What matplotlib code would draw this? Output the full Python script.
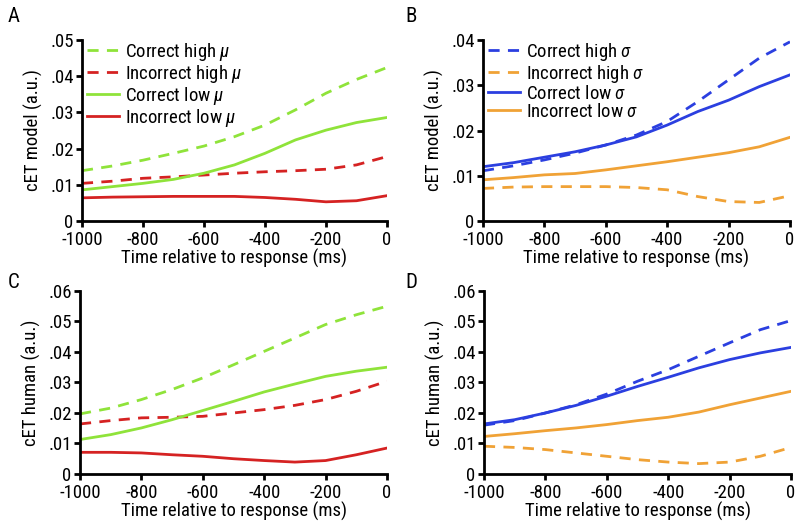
import matplotlib
matplotlib.use("Agg")
import matplotlib.pyplot as plt
from matplotlib.ticker import FuncFormatter

plt.rcParams['font.family'] = ['Roboto Condensed', 'DejaVu Sans']
plt.rcParams['mathtext.fontset'] = 'custom'
plt.rcParams['mathtext.it'] = 'Roboto Condensed:italic'
plt.rcParams['mathtext.rm'] = 'Roboto Condensed'

time = [-1000, -900, -800, -700, -600, -500, -400, -300, -200, -100, 0]

# Panel A (model, mu)
a_corr_high = [.0139, .0152, .0168, .0187, .0207, .0233, .0265, .0307, .0353, .0391, .0424]
a_inc_high = [.0104, .0110, .0118, .0122, .0127, .0132, .0136, .0139, .0143, .0155, .0178]
a_corr_low = [.0086, .0095, .0104, .0115, .0132, .0155, .0187, .0224, .0251, .0272, .0286]
a_inc_low = [.0064, .0066, .0067, .0068, .0068, .0068, .0065, .0060, .0053, .0056, .0070]

# Panel B (model, sigma)
b_corr_high = [.0111, .0122, .0135, .0150, .0168, .0190, .0220, .0264, .0312, .0360, .0396]
b_inc_high = [.0072, .0075, .0076, .0076, .0076, .0074, .0069, .0054, .0043, .0041, .0056]
b_corr_low = [.0120, .0129, .0141, .0153, .0168, .0186, .0212, .0242, .0267, .0297, .0323]
b_inc_low = [.0091, .0096, .0102, .0105, .0113, .0122, .0131, .0141, .0151, .0164, .0185]

# Panel C (human, mu)
c_corr_high = [.0197, .0216, .0244, .0277, .0315, .0358, .0402, .0446, .0490, .0522, .0550]
c_inc_high = [.0164, .0175, .0184, .0186, .0189, .0200, .0211, .0225, .0244, .0271, .0304]
c_corr_low = [.0113, .0129, .0151, .0178, .0208, .0238, .0269, .0295, .0320, .0337, .0350]
c_inc_low = [.0071, .0071, .0069, .0063, .0058, .0050, .0044, .0039, .0044, .0063, .0085]

# Panel D (human, sigma)
d_corr_high = [.0160, .0175, .0200, .0227, .0262, .0304, .0342, .0386, .0430, .0473, .0503]
d_inc_high = [.0091, .0087, .0080, .0069, .0058, .0047, .0039, .0034, .0039, .0058, .0087]
d_corr_low = [.0164, .0178, .0200, .0225, .0255, .0287, .0317, .0348, .0375, .0397, .0415]
d_inc_low = [.0123, .0132, .0142, .0151, .0162, .0175, .0186, .0203, .0227, .0249, .0271]

x_ticks = [-1000, -800, -600, -400, -200, 0]
yticks_a = [0, .01, .02, .03, .04, .05]
yticks_b = [0, .01, .02, .03, .04]
yticks_cd = [0, .01, .02, .03, .04, .05, .06]

GREEN = '#8fe33a'
RED = '#d52222'
BLUE = '#2b3fe0'
ORANGE = '#f0a236'

fig = plt.figure(figsize=(8.02, 5.30), dpi=100)

positions = {
    'A': [0.1022, 0.583, 0.3803, 0.3415],
    'B': [0.6022, 0.583, 0.3828, 0.3415],
    'C': [0.0998, 0.1057, 0.3827, 0.3453],
    'D': [0.6035, 0.1057, 0.3828, 0.3453],
}

def fmt(v, pos):
    if abs(v) < 1e-12:
        return '0'
    return ('%.2f' % v).lstrip('0')

dash = (4, 3)
FS = 13.5

def setup(ax, yticks, ylabel):
    ax.set_xlim(-1000, 0)
    ax.set_ylim(0, yticks[-1])
    ax.set_xticks(x_ticks)
    ax.set_yticks(yticks)
    ax.yaxis.set_major_formatter(FuncFormatter(fmt))
    ax.xaxis.set_major_formatter(FuncFormatter(lambda v, p: '%d' % v))
    for s in ['top', 'right']:
        ax.spines[s].set_visible(False)
    for s in ['left', 'bottom']:
        ax.spines[s].set_linewidth(2)
    ax.tick_params(direction='out', length=4, width=2, labelsize=FS)
    ax.tick_params(axis='x', pad=3)
    ax.tick_params(axis='y', pad=2)
    ax.set_xlabel('Time relative to response (ms)', fontsize=FS, labelpad=0)
    ax.set_ylabel(ylabel, fontsize=FS, labelpad=5)

panels = [
    ('A', yticks_a, 'cET model (a.u.)', a_corr_high, a_inc_high, a_corr_low, a_inc_low, GREEN, RED, r'$\mu$', True),
    ('B', yticks_b, 'cET model (a.u.)', b_corr_high, b_inc_high, b_corr_low, b_inc_low, BLUE, ORANGE, r'$\sigma$', True),
    ('C', yticks_cd, 'cET human (a.u.)', c_corr_high, c_inc_high, c_corr_low, c_inc_low, GREEN, RED, r'$\mu$', False),
    ('D', yticks_cd, 'cET human (a.u.)', d_corr_high, d_inc_high, d_corr_low, d_inc_low, BLUE, ORANGE, r'$\sigma$', False),
]

for key, yt, ylab, ch, ih, cl, il, ccol, icol, sym, leg in panels:
    ax = fig.add_axes(positions[key])
    kw = dict(lw=2, solid_joinstyle='round', dash_joinstyle='round')
    ax.plot(time, ch, color=ccol, dashes=dash, label='Correct high ' + sym, **kw)
    ax.plot(time, ih, color=icol, dashes=dash, label='Incorrect high ' + sym, **kw)
    ax.plot(time, cl, color=ccol, label='Correct low ' + sym, **kw)
    ax.plot(time, il, color=icol, label='Incorrect low ' + sym, **kw)
    setup(ax, yt, ylab)
    if leg:
        ax.legend(loc='upper left', bbox_to_anchor=(0.015, 0.995), frameon=False,
                  fontsize=FS, handlelength=1.75, handletextpad=0.3,
                  labelspacing=0.0, borderaxespad=0, borderpad=0)

for lab, xp, yp in [('A', 8, 16), ('B', 405, 16), ('C', 8, 283), ('D', 405, 283)]:
    fig.text(xp / 802, 1 - yp / 530, lab, fontsize=15, va='center', ha='left')

fig.savefig('out.png', dpi=100)
